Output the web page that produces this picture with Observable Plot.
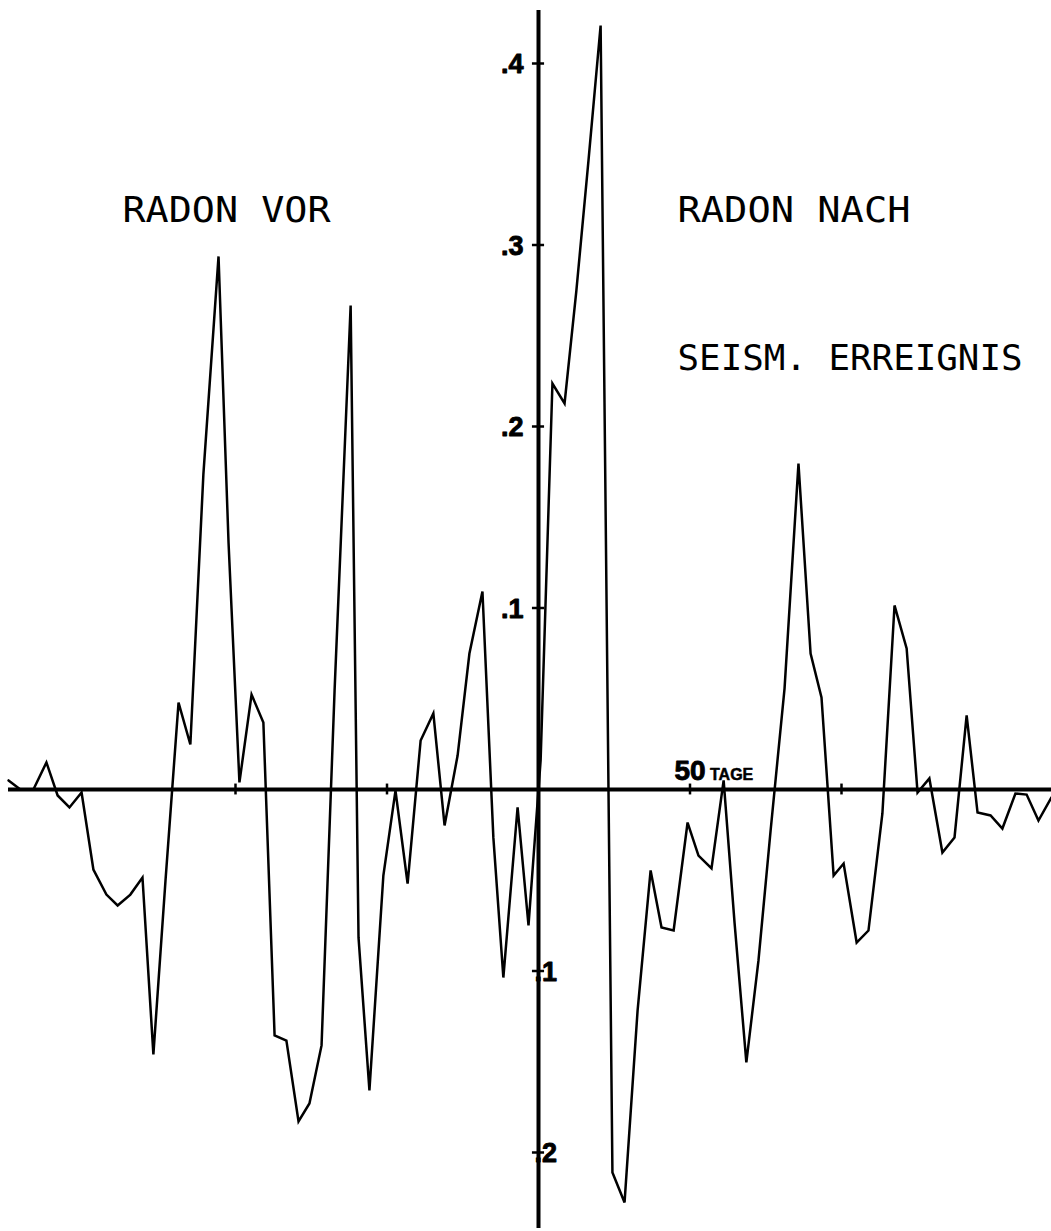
<!DOCTYPE html>
<html>
<head>
<meta charset="utf-8">
<script src="https://cdn.jsdelivr.net/npm/d3@7"></script>
<script src="https://cdn.jsdelivr.net/npm/@observablehq/plot@0.6"></script>
<style>
  html, body { margin: 0; padding: 0; background: #fff; }
  #chart svg { display: block; }
</style>
</head>
<body>
<div id="chart"></div>
<script>
// Days relative to the seismic event
const days = [
  -174.9, -171.0, -166.7, -162.4, -158.7, -154.8, -150.8, -146.9, -142.6, -138.9,
  -134.7, -130.7, -127.1, -123.1, -118.8, -114.9, -110.6, -105.6, -102.3, -98.7,
  -94.7, -90.8, -87.1, -83.2, -79.2, -75.6, -71.6, -67.3, -62.0, -59.4,
  -55.8, -51.2, -47.2, -43.2, -38.9, -34.7, -31.0, -26.7, -22.8, -18.5,
  -14.9, -11.6, -6.9, -3.3, 0.7, 4.6, 8.6, 12.5, 16.5, 20.5,
  24.4, 28.4, 32.7, 37.0, 40.6, 44.6, 49.2, 52.8, 57.1, 61.1,
  64.7, 68.6, 72.6, 76.6, 81.2, 85.8, 89.8, 93.4, 97.4, 100.7,
  105.0, 108.9, 113.5, 117.5, 121.5, 125.1, 129.0, 133.3, 137.3, 141.3,
  144.9, 149.2, 153.1, 157.4, 161.1, 165.0, 169.3
];
// Radon anomaly values
const radon = [
  0.005, 0.000, 0.000, 0.0149, -0.0033, -0.0099, -0.0017, -0.0441, -0.0579, -0.0639,
  -0.0579, -0.0485, -0.1460, -0.0501, 0.0479, 0.0248, 0.1736, 0.2937, 0.1361, 0.0039,
  0.0523, 0.0369, -0.1355, -0.1383, -0.1829, -0.1730, -0.1410, 0.0545, 0.2667, -0.0815,
  -0.1658, -0.0474, -0.0006, -0.0518, 0.0270, 0.0419, -0.0198, 0.0187, 0.0749, 0.1091,
  -0.0264, -0.1036, -0.0099, -0.0749, 0.016, 0.2237, 0.2127, 0.2749, 0.3466, 0.4209,
  -0.2110, -0.2275, -0.1218, -0.0446, -0.0760, -0.0777, -0.0182, -0.0364, -0.0435, 0.005,
  -0.0733, -0.1504, -0.0942, -0.0226, 0.0556, 0.1796, 0.0749, 0.0507, -0.0474, -0.0408,
  -0.0843, -0.0777, -0.0132, 0.1014, 0.0777, -0.0017, 0.0061, -0.0347, -0.0264, 0.0408,
  -0.0127, -0.0143, -0.0215, -0.0022, -0.0028, -0.0171, -0.0044
];
const yTickValues = [0.4, 0.3, 0.2, 0.1, -0.1, -0.2];
const yTickLabels = [".4", ".3", ".2", ".1", ".1", ".2"];
const xTickValues = [-100, -50, 50, 100];
const xLabelNumber = "50";
const xLabelUnit = "TAGE";
const titles = ["RADON VOR", "RADON NACH", "SEISM. ERREIGNIS"];

const data = days.map((d, i) => ({day: d, value: radon[i]}));
const posTicks = yTickValues.map((v, i) => ({v, label: yTickLabels[i]})).filter(d => d.v > 0);
const negTicks = yTickValues.map((v, i) => ({v, label: yTickLabels[i]})).filter(d => d.v < 0);

const pxPerDay = 3.03, pxPerUnit = 1815, x0 = 538, y0 = 789, W = 1051, H = 1231;
const xDomain = [-x0 / pxPerDay, (W - x0) / pxPerDay];
const yDomain = [(y0 - H) / pxPerUnit, y0 / pxPerUnit];
const boldFont = "Liberation Sans, Arial, sans-serif";
const heavy = {fontFamily: boldFont, fontWeight: "bold", fill: "#000", stroke: "#000", strokeWidth: 0.9};

const chart = Plot.plot({
  width: W,
  height: H,
  margin: 0,
  style: {background: "#fff", color: "#000"},
  x: {domain: xDomain, axis: null},
  y: {domain: yDomain, axis: null},
  marks: [
    // axes
    Plot.ruleY([0], {x1: (8 - x0) / pxPerDay, x2: xDomain[1], stroke: "#000", strokeWidth: 4}),
    Plot.ruleX([0], {y1: (y0 - 1228) / pxPerUnit, y2: (y0 - 10) / pxPerUnit, stroke: "#000", strokeWidth: 4}),
    // ticks
    Plot.ruleY(yTickValues, {x1: -2, x2: 2, stroke: "#000", strokeWidth: 2.5}),
    Plot.ruleX(xTickValues, {y1: -0.003, y2: 0.003, stroke: "#000", strokeWidth: 2.5}),
    // tick labels
    Plot.text(posTicks, {x: 0, y: "v", text: "label", textAnchor: "end", dx: -15, dy: 1, fontSize: 27, ...heavy}),
    Plot.text(negTicks, {x: 0, y: "v", text: "label", textAnchor: "start", dx: -4, dy: 1, fontSize: 27, ...heavy}),
    Plot.text([xLabelNumber], {x: 50, y: 0, text: d => d, textAnchor: "middle", lineAnchor: "bottom", dx: 0, dy: -10,
      fontSize: 28, ...heavy}),
    Plot.text([xLabelUnit], {x: 50, y: 0, text: d => d, textAnchor: "start", lineAnchor: "bottom", dx: 20, dy: -10,
      fontSize: 16, ...heavy, strokeWidth: 0.5}),
    // titles
    Plot.text([titles[0]], {x: (122 - x0) / pxPerDay, y: (y0 - 210) / pxPerUnit, text: d => d, textAnchor: "start",
      fontFamily: "DejaVu Sans Mono, monospace", fontSize: 36, fill: "#000", className: "ttl"}),
    Plot.text([titles[1]], {x: (677 - x0) / pxPerDay, y: (y0 - 210) / pxPerUnit, text: d => d, textAnchor: "start",
      fontFamily: "DejaVu Sans Mono, monospace", fontSize: 36, fill: "#000", className: "ttl"}),
    Plot.text([titles[2]], {x: (677 - x0) / pxPerDay, y: (y0 - 358) / pxPerUnit, text: d => d, textAnchor: "start",
      fontFamily: "DejaVu Sans Mono, monospace", fontSize: 36, fill: "#000", className: "ttl"}),
    // data line
    Plot.line(data, {x: "day", y: "value", stroke: "#000", strokeWidth: 2.5, strokeLinejoin: "miter", strokeMiterlimit: 4})
  ]
});
document.getElementById("chart").appendChild(chart);

// fit title widths to the reference lettering
const widths = {"RADON VOR": 208, "RADON NACH": 233, "SEISM. ERREIGNIS": 345};
d3.select(chart).selectAll(".ttl text").each(function() {
  const t = this.textContent;
  if (widths[t]) { this.setAttribute("textLength", widths[t]); this.setAttribute("lengthAdjust", "spacingAndGlyphs"); }
});
</script>
</body>
</html>
